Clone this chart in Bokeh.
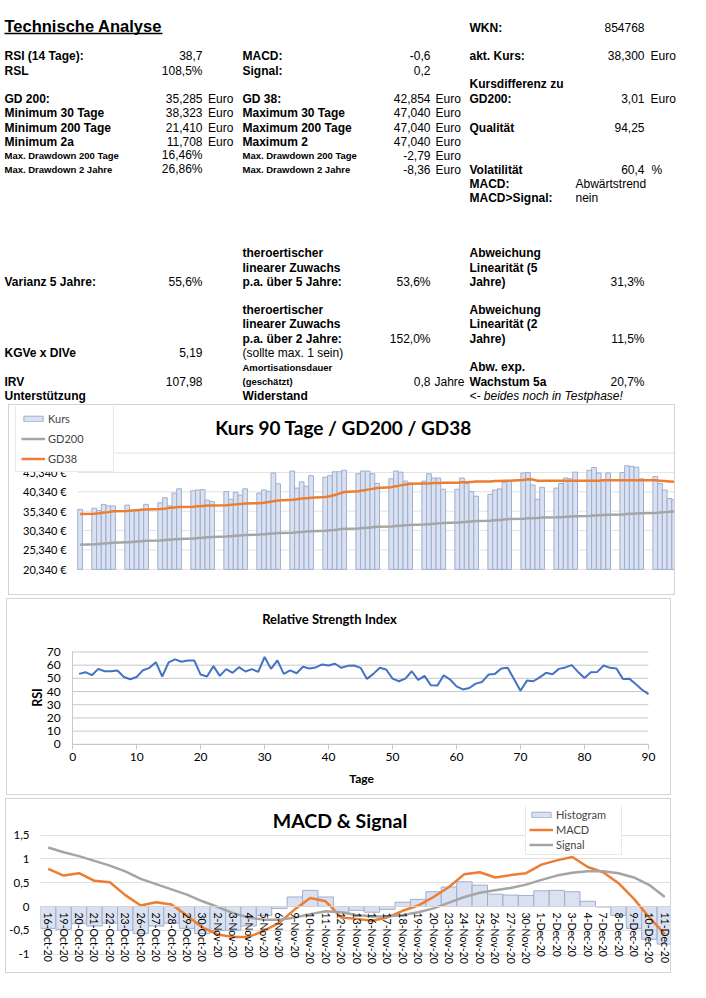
import math
import pandas as pd
from bokeh.plotting import figure
from bokeh.models import (Range1d, FixedTicker, CustomJSTickFormatter, Legend,
                          LegendItem, FactorRange, ColumnDataSource, Label)
from bokeh.embed import file_html
from bokeh.resources import INLINE
from bokeh.core.properties import value

# ---------------- data: Kurs 90 Tage / GD200 / GD38 ----------------
kurs_first_day = "2020-08-07"
kurs_last_day = "2020-12-11"
kurs = [35.8,
        36.1, 35.5, 37.1, 36.7, 36.7,
        36.9, 35.5, 35.6, 35.8, 37.1,
        37.5, 38.8, 36.7, 40.0, 41.1,
        40.6, 40.8, 40.9, 38.2, 37.8,
        40.4, 38.4, 40.2, 39.5, 41.1,
        40.0, 40.8, 40.4, 45.2, 42.4,
        45.7, 41.3, 42.9, 41.8, 44.5,
        44.1, 44.5, 45.5, 45.5, 45.9,
        45.0, 45.7, 45.7, 45.0, 42.5,
        43.7, 45.7, 45.4, 43.1, 42.6,
        43.1, 45.0, 43.9, 43.9, 41.0,
        41.0, 43.9, 42.5, 40.4, 39.2,
        39.7, 40.8, 41.1, 42.8, 43.1,
        45.2, 45.3, 42.1, 38.4, 41.5,
        41.3, 42.5, 43.9, 43.7, 45.4,
        45.9, 46.6, 45.2, 43.4, 45.2,
        45.3, 47.04, 46.9, 46.7, 43.7,
        44.3, 42.5, 40.8, 38.6, 38.3]
gd200 = [26.7,
         26.8, 26.9, 27.0, 27.1, 27.2,
         27.3, 27.4, 27.5, 27.6, 27.7,
         27.8, 27.9, 28.0, 28.1, 28.2,
         28.3, 28.4, 28.5, 28.6, 28.7,
         28.8, 28.9, 29.0, 29.1, 29.2,
         29.3, 29.4, 29.5, 29.6, 29.7,
         29.8, 29.9, 30.0, 30.1, 30.2,
         30.3, 30.4, 30.5, 30.65, 30.8,
         30.9, 31.0, 31.1, 31.2, 31.3,
         31.4, 31.5, 31.6, 31.7, 31.8,
         31.9, 32.0, 32.1, 32.2, 32.3,
         32.4, 32.5, 32.6, 32.7, 32.8,
         32.9, 33.0, 33.1, 33.2, 33.3,
         33.4, 33.5, 33.55, 33.6, 33.7,
         33.75, 33.8, 33.9, 34.0, 34.05,
         34.1, 34.2, 34.3, 34.35, 34.4,
         34.5, 34.6, 34.7, 34.75, 34.8,
         34.9, 35.0, 35.1, 35.2, 35.29]
gd38 = [34.6,
        34.7, 34.8, 35.0, 35.1, 35.3,
        35.4, 35.5, 35.6, 35.7, 35.8,
        35.9, 36.0, 36.2, 36.3, 36.4,
        36.5, 36.6, 36.7, 36.8, 36.8,
        36.9, 37.0, 37.1, 37.2, 37.3,
        37.4, 37.5, 37.7, 37.9, 38.1,
        38.3, 38.4, 38.6, 38.7, 38.8,
        39.0, 39.2, 39.5, 39.9, 40.3,
        40.5, 40.7, 40.9, 41.1, 41.3,
        41.5, 41.8, 42.0, 42.2, 42.4,
        42.5, 42.5, 42.6, 42.6, 42.7,
        42.7, 42.8, 42.8, 42.9, 43.0,
        43.0, 43.1, 43.1, 43.2, 43.2,
        43.4, 43.6, 43.5, 43.2, 43.2,
        43.2, 43.2, 43.2, 43.2, 43.2,
        43.2, 43.2, 43.2, 43.3, 43.3,
        43.3, 43.3, 43.3, 43.3, 43.3,
        43.3, 43.2, 43.1, 43.0, 42.9]
kurs_ticks = [20.34, 25.34, 30.34, 35.34, 40.34, 45.34, 50.34]

# ---------------- data: RSI ----------------
rsi = [53.4, 54.7, 52.4, 57.2, 55.4, 55.4, 56.0, 51.0, 49.3, 51.0,
       56.2, 58.0, 62.3, 51.4, 62.1, 64.4, 62.6, 63.6, 63.6, 52.9,
       51.4, 59.3, 51.9, 57.0, 54.2, 58.5, 55.2, 57.0, 54.9, 66.2,
       57.2, 63.6, 53.4, 56.0, 53.9, 58.8, 57.5, 58.3, 60.6, 59.8,
       61.1, 58.0, 59.5, 59.8, 58.0, 49.6, 53.4, 58.0, 56.7, 49.8,
       47.8, 49.8, 55.4, 48.8, 51.9, 44.7, 44.5, 52.4, 49.1, 43.9,
       41.6, 42.7, 46.0, 47.3, 52.9, 53.4, 57.5, 58.0, 49.3, 40.6,
       48.3, 47.8, 50.8, 54.2, 53.1, 57.2, 58.3, 60.0, 54.9, 50.3,
       54.7, 54.9, 59.8, 58.0, 57.5, 49.6, 49.8, 45.7, 41.4, 38.0]
rsi_days = list(range(1, len(rsi) + 1))
rsi_x_ticks = [0, 10, 20, 30, 40, 50, 60, 70, 80, 90]
rsi_y_ticks = [0, 10, 20, 30, 40, 50, 60, 70]

# ---------------- data: MACD & Signal ----------------
macd_dates = ["16-Oct-20", "19-Oct-20", "20-Oct-20", "21-Oct-20", "22-Oct-20", "23-Oct-20",
              "26-Oct-20", "27-Oct-20", "28-Oct-20", "29-Oct-20", "30-Oct-20",
              "2-Nov-20", "3-Nov-20", "4-Nov-20", "5-Nov-20", "6-Nov-20",
              "9-Nov-20", "10-Nov-20", "11-Nov-20", "12-Nov-20", "13-Nov-20",
              "16-Nov-20", "17-Nov-20", "18-Nov-20", "19-Nov-20", "20-Nov-20",
              "23-Nov-20", "24-Nov-20", "25-Nov-20", "26-Nov-20", "27-Nov-20",
              "30-Nov-20", "1-Dec-20", "2-Dec-20", "3-Dec-20", "4-Dec-20",
              "7-Dec-20", "8-Dec-20", "9-Dec-20", "10-Dec-20", "11-Dec-20"]
macd_hist = [-0.46, -0.48, -0.36, -0.41, -0.35, -0.50, -0.57, -0.41, -0.35, -0.46, -0.57,
             -0.50, -0.50, -0.41, -0.19, -0.04, 0.20, 0.34, 0.20, -0.12, -0.08,
             -0.12, -0.06, 0.09, 0.15, 0.31, 0.41, 0.52, 0.45, 0.26, 0.24, 0.23,
             0.33, 0.34, 0.31, 0.11, -0.01, -0.19, -0.46, -0.69, -0.79]
macd_line = [0.79, 0.65, 0.70, 0.54, 0.51, 0.24, 0.02, 0.09, 0.04, -0.19, -0.44,
             -0.59, -0.64, -0.64, -0.51, -0.34, -0.06, 0.18, 0.11, -0.23, -0.26,
             -0.30, -0.23, -0.09, 0.02, 0.20, 0.41, 0.68, 0.72, 0.61, 0.66, 0.70,
             0.88, 0.97, 1.04, 0.83, 0.72, 0.49, 0.16, -0.23, -0.58]
signal_line = [1.24, 1.14, 1.06, 0.96, 0.86, 0.74, 0.58, 0.47, 0.36, 0.25, 0.11,
               -0.01, -0.14, -0.23, -0.28, -0.28, -0.23, -0.16, -0.10, -0.12, -0.18,
               -0.21, -0.21, -0.18, -0.12, -0.04, 0.08, 0.20, 0.29, 0.34, 0.39, 0.46,
               0.56, 0.65, 0.71, 0.74, 0.74, 0.70, 0.61, 0.45, 0.20]
macd_ticks = [-1, -0.5, 0, 0.5, 1, 1.5]

# ---------------- data: table texts ----------------
title_text = "Technische Analyse"
a_labels = ["RSI (14 Tage):", "RSL", "GD 200:", "Minimum 30 Tage", "Minimum 200 Tage",
            "Minimum 2a", "Varianz 5 Jahre:", "KGVe x DIVe", "IRV", "Unterstützung"]
a_small = ["Max. Drawdown 200 Tage", "Max. Drawdown 2 Jahre"]
b_values = ["38,7", "108,5%", "35,285", "38,323", "21,410", "11,708", "16,46%", "26,86%",
            "55,6%", "5,19", "107,98"]
c_labels = ["MACD:", "Signal:", "GD 38:", "Maximum 30 Tage", "Maximum 200 Tage", "Maximum 2",
            "theroertischer", "linearer Zuwachs", "p.a. über 5 Jahre:",
            "theroertischer", "linearer Zuwachs", "p.a. über 2 Jahre:", "Widerstand"]
c_small = ["Max. Drawdown 200 Tage", "Max. Drawdown 2 Jahre", "Amortisationsdauer", "(geschätzt)"]
c_note = ["(sollte max. 1 sein)"]
d_values = ["-0,6", "0,2", "42,854", "47,040", "47,040", "47,040", "-2,79", "-8,36",
            "53,6%", "152,0%", "0,8"]
e_labels = ["WKN:", "akt. Kurs:", "Kursdifferenz zu", "GD200:", "Qualität", "Volatilität",
            "MACD:", "MACD>Signal:", "Abweichung", "Linearität (5", "Jahre)",
            "Abweichung", "Linearität (2", "Jahre)", "Abw. exp.", "Wachstum 5a"]
e_note = ["<- beides noch in Testphase!"]
f_values = ["854768", "38,300", "3,01", "94,25", "60,4", "31,3%", "11,5%", "20,7%"]
f_words = ["Abwärtstrend", "nein"]

# ---------------- styles ----------------
SANS = "Liberation Sans"
CAL = "Lato"
BAR_FILL = "#dae2f2"
BAR_LINE = "#9eaecf"
ORANGE = "#ed7d31"
GREY = "#a5a5a5"
BLUE = "#4472c4"
BOX = "1px solid #d4d4d4"

# ================= table of texts =================
pt = figure(width=706, height=404, x_range=Range1d(0, 706), y_range=Range1d(404, 0),
            x_axis_type=None, y_axis_type=None, output_backend="svg",
            toolbar_location=None, min_border=0, outline_line_color=None)


def put(x, ys, texts, align="left", style="bold", size="12px"):
    pt.text(x=[x] * len(texts), y=ys, text=texts, text_font=value(SANS),
            text_font_size=size, text_font_style=style, text_align=align,
            text_baseline="middle", text_color="#000000")


put(4, [25], [title_text], size="16.5px")
pt.segment(x0=[4], y0=[33], x1=[162], y1=[33], line_color="#000000", line_width=1.4)

put(4, [55, 70, 98, 112, 127, 141, 281, 352, 381, 395], a_labels)
put(4, [155, 169], a_small, size="9.5px")
put(202, [55, 70, 98, 112, 127, 141, 154, 168, 281, 352, 381], b_values, align="right", style="normal")
put(207.5, [98, 112, 127, 141], ["Euro"] * 4, style="normal")

put(242, [55, 70, 98, 112, 127, 141, 252, 267, 281, 309, 323, 338, 395], c_labels)
put(242, [155, 169, 367, 381], c_small, size="9.5px")
put(242, [352], c_note, style="normal")
put(430, [55, 70, 98, 112, 127, 141, 155, 169, 281, 338, 381], d_values, align="right", style="normal")
put(435, [98, 112, 127, 141, 155, 169], ["Euro"] * 6, style="normal")
put(434, [381], ["Jahre"], style="normal")

put(469, [27, 55, 83, 98, 127, 169, 183, 197, 252, 267, 281, 309, 323, 338, 366, 381], e_labels)
put(469, [395], e_note, style="italic")
put(644, [27, 55, 98, 127, 169, 281, 338, 381], f_values, align="right", style="normal")
put(650, [55, 98], ["Euro", "Euro"], style="normal")
put(651, [169], ["%"], style="normal")
put(575, [183, 197], f_words, style="normal")

# ================= chart 1: Kurs =================
days = pd.bdate_range(kurs_first_day, kurs_last_day)
half = pd.Timedelta(hours=12)
# layout: bars span screen px 77..674, frame spans px 12..674 and 406..579
px_per_day = (674 - 77) / ((days[-1] - days[0]).days + 1)
bars_left = days[0] - half
x1_start = bars_left - pd.Timedelta(days=(77 - 12) / px_per_day)
x1_end = days[-1] + half
px_per_unit = (567 - 452) / (kurs_ticks[-1] - kurs_ticks[0])
y1_end = kurs_ticks[-1] + (452 - 406) / px_per_unit
y1_start = kurs_ticks[0] - (579 - 567) / px_per_unit


def ms(ts):
    return ts.value / 1e6


src1 = ColumnDataSource(dict(day=days, kurs=kurs, gd200=gd200, gd38=gd38))
p1 = figure(width=667, height=191, x_axis_type="datetime",
            x_range=Range1d(x1_start, x1_end),
            y_range=Range1d(y1_start, y1_end),
            output_backend="svg", toolbar_location=None, outline_line_color=None,
            min_border_left=3, min_border_right=0, min_border_top=1, min_border_bottom=15)
p1.styles = {"border": BOX}
p1.margin = (0, 0, 3, 8)
p1.segment(x0=[bars_left] * len(kurs_ticks), x1=[x1_end] * len(kurs_ticks),
           y0=kurs_ticks, y1=kurs_ticks, line_color="#e2e2e2", line_width=1)
bars1 = p1.vbar(x="day", top="kurs", bottom=kurs_ticks[0], width=86400000, source=src1,
                fill_color=BAR_FILL, line_color=BAR_LINE, line_width=1)
l200 = p1.line("day", "gd200", source=src1, line_color=GREY, line_width=2.5)
l38 = p1.line("day", "gd38", source=src1, line_color=ORANGE, line_width=2.5)
p1.xaxis.visible = False
p1.grid.visible = False
p1.yaxis.fixed_location = ms(bars_left)
p1.yaxis.ticker = FixedTicker(ticks=kurs_ticks)
p1.yaxis.formatter = CustomJSTickFormatter(code="return tick.toFixed(3).replace('.', ',') + ' \u20ac';")
p1.yaxis.axis_line_color = None
p1.yaxis.major_tick_line_color = None
p1.yaxis.minor_tick_line_color = None
p1.yaxis.major_tick_out = 0
p1.yaxis.major_tick_in = 0
p1.yaxis.major_label_standoff = 11
p1.yaxis.major_label_text_font = CAL
p1.yaxis.major_label_text_font_size = "11px"
p1.yaxis.major_label_text_color = "#000000"
p1.add_layout(Label(x=ms(bars_left + pd.Timedelta(days=(342 - 77) / px_per_day)),
                    y=kurs_ticks[0] + (567 - 427) / px_per_unit,
                    text="Kurs 90 Tage / GD200 / GD38", text_align="center",
                    text_baseline="middle", text_font=CAL, text_font_size="19px",
                    text_font_style="bold", text_color="#000000"))
leg1 = Legend(items=[LegendItem(label="Kurs", renderers=[bars1]),
                     LegendItem(label="GD200", renderers=[l200]),
                     LegendItem(label="GD38", renderers=[l38])],
              location=(3, 579 - 470), margin=0, padding=5, spacing=5,
              glyph_width=24, glyph_height=7, label_height=15, label_width=60,
              label_standoff=3, label_text_font=CAL, label_text_font_size="11px",
              border_line_color="#d4d4d4", background_fill_color="#ffffff",
              background_fill_alpha=1.0)
p1.add_layout(leg1)

# ================= chart 2: RSI =================
# layout: x=0..90 spans px 72..646, y=0..70 spans px 742.3..651; frame px 14..662 x 606..788
px_per_rsi = (742.3 - 651) / (rsi_y_ticks[-1] - rsi_y_ticks[0])
px_per_day_rsi = (646 - 72) / (rsi_x_ticks[-1] - rsi_x_ticks[0])
x2_start = rsi_x_ticks[0] - (72 - 14) / px_per_day_rsi
x2_end = rsi_x_ticks[-1] + (662 - 646) / px_per_day_rsi
y2_start = rsi_y_ticks[0] - (788 - 742.3) / px_per_rsi
y2_end = rsi_y_ticks[-1] + (651 - 606) / px_per_rsi

p2 = figure(width=665, height=197, x_range=Range1d(x2_start, x2_end),
            y_range=Range1d(y2_start, y2_end),
            output_backend="svg", toolbar_location=None, outline_line_color=None,
            min_border_left=7, min_border_right=8, min_border_top=7, min_border_bottom=6)
p2.styles = {"border": BOX}
p2.margin = (0, 0, 3, 6)
p2.grid.visible = False
p2.segment(x0=[rsi_x_ticks[0]] * len(rsi_y_ticks), x1=[rsi_x_ticks[-1]] * len(rsi_y_ticks),
           y0=rsi_y_ticks, y1=rsi_y_ticks, line_color="#c8c8c8", line_width=1)
p2.line(x=rsi_days, y=rsi, line_color=BLUE, line_width=2)
p2.xaxis.ticker = FixedTicker(ticks=rsi_x_ticks)
p2.yaxis.ticker = FixedTicker(ticks=rsi_y_ticks)
p2.xaxis.fixed_location = rsi_y_ticks[0]
p2.yaxis.fixed_location = rsi_x_ticks[0]
p2.xaxis.bounds = (rsi_x_ticks[0], rsi_x_ticks[-1])
p2.yaxis.bounds = (rsi_y_ticks[0], rsi_y_ticks[-1])
for ax in (p2.xaxis, p2.yaxis):
    ax.axis_line_color = "#c8c8c8"
    ax.minor_tick_line_color = None
    ax.major_label_text_font = CAL
    ax.major_label_text_font_size = "12px"
    ax.major_label_text_color = "#000000"
p2.xaxis.major_tick_line_color = "#c8c8c8"
p2.xaxis.major_tick_out = 5
p2.xaxis.major_tick_in = 0
p2.xaxis.major_label_standoff = 4
p2.yaxis.major_tick_line_color = None
p2.yaxis.major_tick_out = 0
p2.yaxis.major_tick_in = 0
p2.yaxis.major_label_standoff = 12
p2.add_layout(Label(x=(328 - 72) / px_per_day_rsi, y=rsi_y_ticks[-1] + (651 - 618) / px_per_rsi,
                    text="Relative Strength Index", text_align="center", text_baseline="middle",
                    text_font=CAL, text_font_size="13px", text_font_style="bold",
                    text_color="#000000"))
p2.add_layout(Label(x=(360 - 72) / px_per_day_rsi, y=rsi_y_ticks[0] - (776 - 742.3) / px_per_rsi,
                    text="Tage", text_align="center", text_baseline="middle",
                    text_font=CAL, text_font_size="12px", text_font_style="bold",
                    text_color="#000000"))
p2.add_layout(Label(x=(37 - 72) / px_per_day_rsi, y=(742.3 - 696) / px_per_rsi,
                    text="RSI", angle=math.pi / 2, text_align="center", text_baseline="middle",
                    text_font=CAL, text_font_size="12.5px", text_font_style="bold",
                    text_color="#000000"))

# ================= chart 3: MACD & Signal =================
px_per_macd = (951.7 - 834.3) / (macd_ticks[-1] - macd_ticks[0])
y3_start = macd_ticks[0] - (962 - 951.7) / px_per_macd
y3_end = macd_ticks[-1] + (834.3 - 806) / px_per_macd
px_per_cat = (670 - 39) / len(macd_dates)

p3 = figure(width=666, height=175, x_range=FactorRange(factors=macd_dates),
            y_range=Range1d(y3_start, y3_end),
            output_backend="svg", toolbar_location=None, outline_line_color=None,
            min_border_left=33, min_border_right=0, min_border_top=7, min_border_bottom=10)
p3.styles = {"border": BOX}
p3.margin = (0, 0, 0, 5)
p3.ygrid.ticker = FixedTicker(ticks=macd_ticks)
p3.xgrid.grid_line_color = None
p3.ygrid.grid_line_color = "#e0e0e0"
hist = p3.vbar(x=macd_dates, top=macd_hist, width=1.0, fill_color=BAR_FILL,
               line_color=BAR_LINE, line_width=1)
mline = p3.line(x=macd_dates, y=macd_line, line_color=ORANGE, line_width=2.5)
sline = p3.line(x=macd_dates, y=signal_line, line_color=GREY, line_width=2.5)
p3.yaxis.ticker = FixedTicker(ticks=macd_ticks)
p3.yaxis.formatter = CustomJSTickFormatter(code="return tick.toString().replace('.', ',');")
p3.yaxis.axis_line_color = None
p3.yaxis.major_tick_line_color = None
p3.yaxis.minor_tick_line_color = None
p3.yaxis.major_tick_out = 0
p3.yaxis.major_tick_in = 0
p3.yaxis.major_label_standoff = 11
p3.yaxis.major_label_text_font = CAL
p3.yaxis.major_label_text_font_size = "11.5px"
p3.yaxis.major_label_text_color = "#000000"
p3.xaxis.fixed_location = 0
p3.xaxis.major_label_orientation = -math.pi / 2
p3.xaxis.axis_line_color = "#d4d4d4"
p3.xaxis.major_tick_line_color = None
p3.xaxis.major_tick_out = 0
p3.xaxis.major_tick_in = 0
p3.xaxis.major_label_standoff = 6
p3.xaxis.major_label_text_font = CAL
p3.xaxis.major_label_text_font_size = "10.5px"
p3.xaxis.major_label_text_color = "#000000"
p3.add_layout(Label(x=(338 - 39) / px_per_cat, y=macd_ticks[-1] + (834.3 - 820) / px_per_macd,
                    text="MACD & Signal", text_align="center", text_baseline="middle",
                    text_font=CAL, text_font_size="19.5px", text_font_style="bold",
                    text_color="#000000"))
leg3 = Legend(items=[LegendItem(label="Histogram", renderers=[hist]),
                     LegendItem(label="MACD", renderers=[mline]),
                     LegendItem(label="Signal", renderers=[sline])],
              location=(485, 962 - 853), margin=0, padding=3, spacing=2,
              glyph_width=24, glyph_height=7, label_height=13, label_width=62,
              label_standoff=3, label_text_font=CAL, label_text_font_size="11px",
              border_line_color="#d4d4d4", background_fill_color="#ffffff",
              background_fill_alpha=1.0)
p3.add_layout(leg3)

open("out.html", "w", encoding="utf-8").write(file_html([pt, p1, p2, p3], INLINE))
